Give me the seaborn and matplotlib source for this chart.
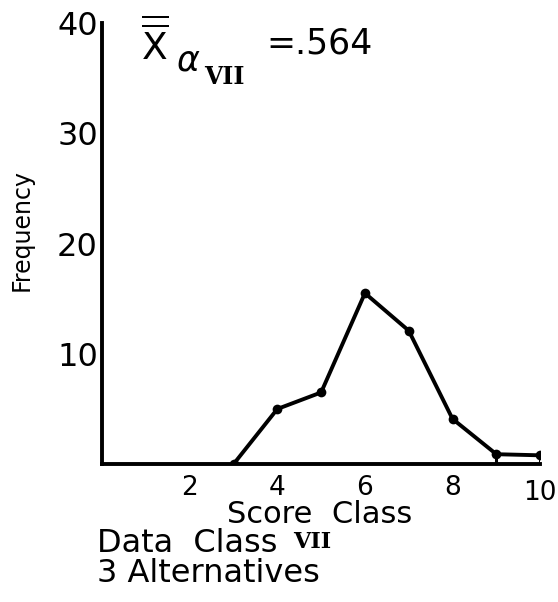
import matplotlib
matplotlib.use("Agg")
import matplotlib.pyplot as plt
import seaborn as sns
import pandas as pd

# Frequency polygon of score classes
score_class = [3, 4, 5, 6, 7, 8, 9, 10]
frequency = [0, 5, 6.5, 15.5, 12.1, 4.1, 0.9, 0.8]

x_ticks = [1, 2, 3, 4, 5, 6, 7, 8, 9]
x_labels = ["", "2", "", "4", "", "6", "", "8", ""]
y_ticks = [10, 20, 30, 40]
y_labels = ["10", "20", "30", "40"]

sns.set_theme(style="white")
plt.rcParams["font.family"] = ["DejaVu Sans"]
plt.rcParams["text.color"] = "black"
plt.rcParams["axes.labelcolor"] = "black"
plt.rcParams["xtick.color"] = "black"
plt.rcParams["ytick.color"] = "black"

df = pd.DataFrame({"score": score_class, "freq": frequency})

fig = plt.figure(figsize=(5.58, 6.02), dpi=100)
ax = fig.add_axes([0.183, 0.229, 0.785, 0.733])

sns.lineplot(data=df, x="score", y="freq", ax=ax, color="black",
             linewidth=2.8, marker="o", markersize=7, markeredgewidth=0)
# closing strokes of the last two classes down to the baseline
ax.vlines(score_class[-2:], 0, frequency[-2:], color="black", linewidth=2.2)

ax.set_xlim(0, 10)
ax.set_ylim(0, 40)
ax.set_xticks(x_ticks)
ax.set_xticklabels(x_labels)
ax.set_yticks(y_ticks)
ax.set_yticklabels(y_labels)
ax.tick_params(axis="both", direction="in", length=7, width=2.2, colors="black", pad=3)
ax.tick_params(axis="x", labelsize=19, pad=8)
ax.tick_params(axis="y", labelsize=23)

for side in ("top", "right"):
    ax.spines[side].set_visible(False)
for side in ("left", "bottom"):
    ax.spines[side].set_linewidth(2.8)
    ax.spines[side].set_color("black")

# "10" label sits at the right end of the axis
ax.text(10.0, -1.4, "10", ha="center", va="top", fontsize=19, transform=ax.transData)

ax.set_xlabel("")
ax.set_ylabel("")
fig.text(0.038, 0.618, "Frequency", rotation=90, ha="center", va="center", fontsize=17)
fig.text(0.573, 0.146, "Score  Class", ha="center", va="center", fontsize=22)

# Caption lines under the axis
fig.text(0.174, 0.097, "Data  Class", ha="left", va="center", fontsize=23)
fig.text(0.525, 0.099, "VII", ha="left", va="center", fontsize=16,
         fontweight="bold", family="DejaVu Serif")
fig.text(0.174, 0.047, "3 Alternatives", ha="left", va="center", fontsize=23)

# Mean annotation
fig.text(0.252, 0.928, r"$\overline{\overline{\mathrm{X}}}$", ha="left", va="center", fontsize=27)
fig.text(0.316, 0.899, r"$\alpha$", ha="left", va="center", fontsize=25)
fig.text(0.366, 0.872, "VII", ha="left", va="center", fontsize=17,
         fontweight="bold", family="DejaVu Serif")
fig.text(0.477, 0.927, "=.564", ha="left", va="center", fontsize=25)

fig.savefig("out.png", dpi=100, facecolor="white")
